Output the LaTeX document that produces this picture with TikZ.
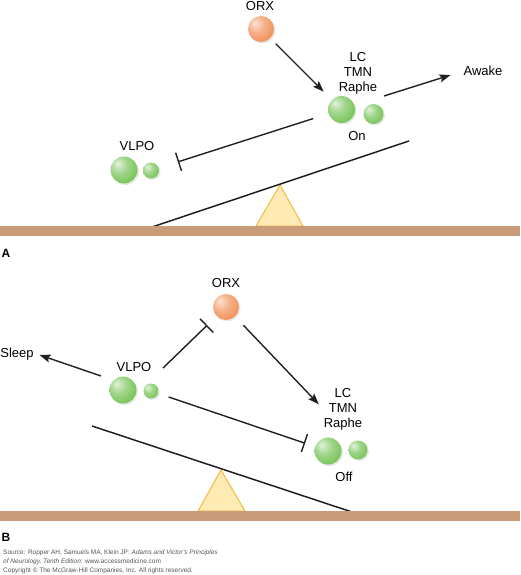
\documentclass[tikz,border=0pt]{standalone}
\usepackage{fontspec}
\setmainfont{Liberation Sans}
\usetikzlibrary{arrows.meta,positioning,shadows}
\usepackage{xcolor}
\definecolor{dark}{HTML}{231F20}
\definecolor{ballgreen}{HTML}{6CBF4A}
\definecolor{ballorange}{HTML}{F0874C}
\definecolor{ground}{HTML}{C99B78}
\definecolor{pivotfill}{HTML}{FEEAB2}
\definecolor{pivotline}{HTML}{F5B841}
\definecolor{srcgray}{HTML}{555555}
\pgfdeclareradialshading{greenball}{\pgfpoint{-12bp}{12bp}}{color(0bp)=(ballgreen!20!white); color(16bp)=(ballgreen!65!white); color(38bp)=(ballgreen); color(50bp)=(ballgreen!92!black); color(70bp)=(ballgreen!92!black)}
\pgfdeclareradialshading{orangeball}{\pgfpoint{-12bp}{12bp}}{color(0bp)=(ballorange!25!white); color(16bp)=(ballorange!65!white); color(38bp)=(ballorange); color(50bp)=(ballorange!92!black); color(70bp)=(ballorange!92!black)}
\tikzset{
  lbl/.style={font=\fontsize{13}{15.3}\selectfont, inner sep=0pt, text height=9.3pt, text depth=0pt},
  stack/.style={font=\fontsize{13}{15.3}\selectfont, inner sep=0pt, align=center, anchor=north},
  ball/.style={circle, inner sep=0pt, draw=none, drop shadow={opacity=0.18, shadow xshift=1.5pt, shadow yshift=-1.5pt}},
  bigball/.style={ball, shading=greenball, minimum size=27pt},
  smallball/.style={ball, shading=greenball, minimum size=#1},
  orxball/.style={ball, shading=orangeball, minimum size=26pt},
  excite/.style={-{Stealth[length=11pt, width=8pt, inset=2pt]}, line width=1.4pt, draw=dark},
  inhibit/.style={-{Bar[width=19pt]}, line width=1.4pt, draw=dark},
  seesaw/.style={line width=1.5pt, draw=dark},
  pivot/.style={fill=pivotfill, draw=pivotline, line width=1pt, line join=round},
  panel/.style={font=\fontsize{12}{14}\selectfont\bfseries, inner sep=0pt},
  note/.style={font=\fontsize{6.5}{8.6}\selectfont, text=srcgray, align=left, anchor=north west, inner sep=0pt}
}
\begin{document}
\begin{tikzpicture}[x=1pt, y=-1pt]
  \useasboundingbox (0,0) rectangle (520,575);

  % panel A: awake
  \node[lbl] (orxtextA) at (260,6) {ORX};
  \node[orxball] (orxA) at (261,29) {};
  \node[stack] (lcA) at (358,52) {LC\\TMN\\Raphe};
  \node[bigball] (lcbigA) at (341.5,109.5) {};
  \node[smallball=20pt] (lcsmallA) at (373.5,114) {};
  \node[lbl] (onA) at (357,136) {On};
  \node[lbl] (awakeA) at (483,71) {Awake};
  \node[lbl] (vlpotextA) at (137,146) {VLPO};
  \node[bigball] (vlpobigA) at (124,170) {};
  \node[smallball=16pt] (vlposmallA) at (151,170.5) {};
  \coordinate (awaketailA) at (384,96);

  \draw[excite, shorten <=7.5pt, shorten >=11.5pt] (orxA) -- (lcbigA);
  \draw[excite, shorten >=13.5pt] (awaketailA) -- (awakeA.west);
  \draw[inhibit, shorten <=16pt, shorten >=20pt] (lcbigA) -- (vlposmallA);

  % seesaw A
  \draw[pivot] (280,185) -- (303,226) -- (256,226) -- cycle;
  \draw[seesaw] (149,228) -- (409,141);
  \fill[ground] (0,226) rectangle (520,236);
  \node[panel] (labelA) at (6,253) {A};

  % panel B: asleep
  \node[lbl] (orxtextB) at (226,283) {ORX};
  \node[orxball] (orxB) at (226,307) {};
  \node[lbl] (sleepB) at (17,353) {Sleep};
  \node[lbl] (vlpotextB) at (134,367) {VLPO};
  \node[bigball] (vlpobigB) at (123,390) {};
  \node[smallball=15pt] (vlposmallB) at (151,391) {};
  \node[stack] (lcB) at (343,388) {LC\\TMN\\Raphe};
  \node[bigball] (lcbigB) at (328,451) {};
  \node[smallball=19pt] (lcsmallB) at (358,450) {};
  \node[lbl] (offB) at (344,477) {Off};
  \coordinate (vlpotailB) at (163,368);
  \coordinate (sleeptailB) at (101,376);

  \draw[inhibit, shorten >=13pt] (vlpotailB) -- (orxB);
  \draw[excite, shorten <=12pt, shorten >=7pt] (orxB) -- (lcB.west);
  \draw[excite, shorten >=6pt] (sleeptailB) -- (sleepB.east);
  \draw[inhibit, shorten <=11pt, shorten >=10.5pt] (vlposmallB) -- (lcbigB);

  % seesaw B
  \draw[pivot] (221,470) -- (245,511) -- (198,511) -- cycle;
  \draw[seesaw] (92,426) -- (352,512);
  \fill[ground] (0,511) rectangle (520,521);
  \node[panel] (labelB) at (6,537) {B};

  % source note
  \node[note] (source) at (3,549.5)
    {Source: Ropper AH, Samuels MA, Klein JP: \textit{Adams and Victor's Principles}\\\textit{of Neurology, Tenth Edition}: www.accessmedicine.com};
  \node[note] (copyright) at (3,568)
    {Copyright \textcopyright{} The McGraw-Hill Companies, Inc. All rights reserved.};
\end{tikzpicture}
\end{document}
